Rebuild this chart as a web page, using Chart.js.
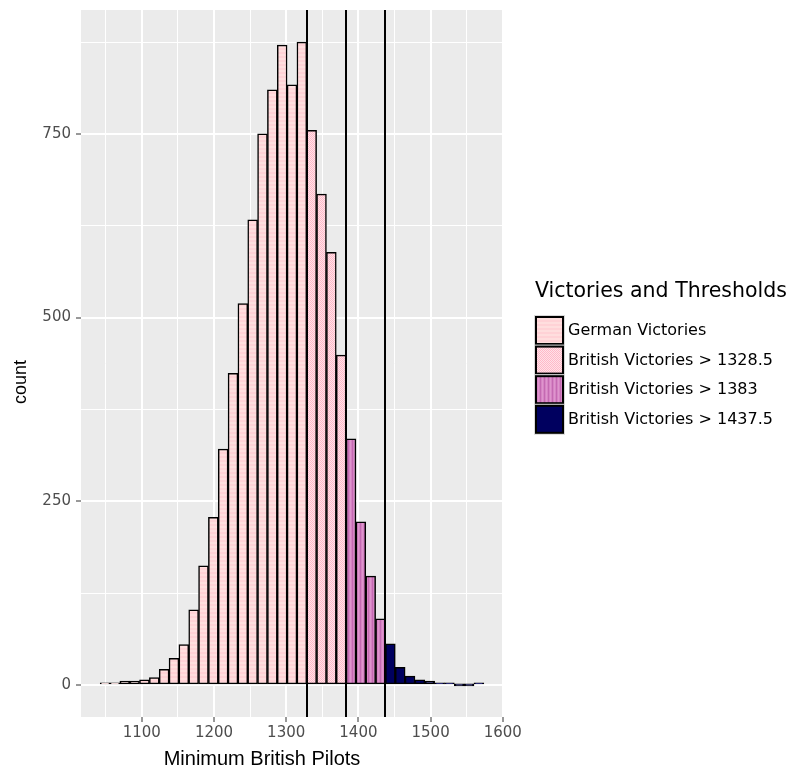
<!DOCTYPE html>
<html>
<head>
<meta charset="utf-8">
<script src="https://cdn.jsdelivr.net/npm/chart.js@4/dist/chart.umd.min.js"></script>
<style>
html,body{margin:0;padding:0;background:#fff;}
#wrap{width:791px;height:769px;position:relative;}
</style>
</head>
<body>
<div id="wrap"><canvas id="c" width="791" height="769"></canvas></div>
<script>
// ---- data ----
const binCenters = [1049.19,1062.81,1076.44,1090.06,1103.69,1117.31,1130.94,1144.56,1158.19,1171.81,
  1185.44,1199.06,1212.69,1226.31,1239.94,1253.56,1267.19,1280.81,1294.44,1308.06,
  1321.69,1335.31,1348.94,1362.56,1376.19,1389.81,1403.44,1417.06,1430.69,1444.31,
  1457.94,1471.56,1485.19,1498.81,1512.44,1526.06,1539.69,1553.31,1566.94];
const counts = [1,2,5,5,7,10,21,36,55,102,
  162,228,321,424,519,633,750,810,871,817,
  875,755,668,589,449,335,222,148,90,56,
  24,12,7,5,2,1,0,0,1];
const thresholds = [1328.5, 1383, 1437.5];
const groupLabels = ['German Victories','British Victories > 1328.5','British Victories > 1383','British Victories > 1437.5'];
const xTickValues = [1100,1200,1300,1400,1500,1600];
const yTickValues = [0,250,500,750];
const xLimits = [1015.8, 1600.3];
const yLimits = [-43.75, 918.75];

// ---- patterns ----
const canvas = document.getElementById('c');
const ctx = canvas.getContext('2d');
function makePattern(w, h, fn){
  const c = document.createElement('canvas'); c.width = w; c.height = h;
  const g = c.getContext('2d'); fn(g); return ctx.createPattern(c, 'repeat');
}
const patterns = [
  makePattern(4,4,g=>{ g.fillStyle='#FFDEDE'; g.fillRect(0,0,4,4); g.fillStyle='#FFD2D6'; g.fillRect(0,0,4,2); }),
  makePattern(4,4,g=>{ g.fillStyle='#FFE2E8'; g.fillRect(0,0,4,4); g.fillStyle='#FFB9C8';
    for(let i=0;i<4;i++){ g.fillRect(i,(i)%4,1,1); g.fillRect(i,(i+2)%4,1,1);} }),
  makePattern(4,4,g=>{ g.fillStyle='#D683C4'; g.fillRect(0,0,4,4); g.fillStyle='#C46AB2'; g.fillRect(0,0,1,4); g.fillStyle='#DE95CD'; g.fillRect(2,0,1,4); }),
  '#00005F'
];
function groupOf(x){
  let gi = 0;
  thresholds.forEach((t,i)=>{ if (x > t) gi = i+1; });
  return gi;
}

const xMinor = xTickValues.map(v=>v-50);
const yMinor = yTickValues.map(v=>v+125);
const xAll = [...xMinor, ...xTickValues].sort((a,b)=>a-b);
const yAll = [...yTickValues, ...yMinor].sort((a,b)=>a-b);

const bgPlugin = {
  id:'bg',
  beforeDraw(chart){
    const a = chart.chartArea, c = chart.ctx;
    c.save(); c.fillStyle = '#EBEBEB'; c.fillRect(a.left, a.top, a.right-a.left, a.bottom-a.top); c.restore();
  },
  afterDatasetsDraw(chart){
    const a = chart.chartArea, c = chart.ctx, xs = chart.scales.x;
    c.save(); c.strokeStyle = '#000'; c.lineWidth = 2;
    thresholds.forEach(t=>{
      const px = Math.round(xs.getPixelForValue(t));
      c.beginPath(); c.moveTo(px, a.top); c.lineTo(px, a.bottom); c.stroke();
    });
    c.restore();
  },
  afterDraw(chart){
    const c = chart.ctx;
    c.save();
    // axis titles
    c.fillStyle = '#000';
    c.font = '20px "Liberation Sans", Arial, sans-serif';
    c.textAlign = 'center'; c.textBaseline = 'middle';
    c.fillText('Minimum British Pilots', 262, 759);
    c.font = '18px "Liberation Sans", Arial, sans-serif';
    c.save(); c.translate(21, 382); c.rotate(-Math.PI/2); c.fillText('count', 0, 0); c.restore();
    // legend
    c.textAlign = 'left';
    c.font = '20.5px "DejaVu Sans", sans-serif';
    c.fillText('Victories and Thresholds', 535, 292);
    c.font = '16px "DejaVu Sans", sans-serif';
    groupLabels.forEach((lab,i)=>{
      const y = 316 + i*29.6;
      c.fillStyle = '#D9D9D9'; c.fillRect(534, y-1, 31, 31);
      c.fillStyle = patterns[i]; c.fillRect(536, y+1, 27, 27);
      c.strokeStyle = '#000'; c.lineWidth = 2; c.strokeRect(536, y+1, 27, 27);
      c.fillStyle = '#000'; c.fillText(lab, 568, y+15);
    });
    c.restore();
  }
};

new Chart(canvas, {
  type: 'bar',
  data: {
    datasets: [{
      data: binCenters.map((x,i)=>({x:x, y:counts[i]})),
      backgroundColor: (cx)=> patterns[groupOf(binCenters[cx.dataIndex])],
      borderColor: '#000',
      borderWidth: 1.5,
      borderSkipped: false,
      minBarLength: 2,
      barPercentage: 1,
      categoryPercentage: 1
    }]
  },
  plugins: [bgPlugin],
  options: {
    responsive: false,
    animation: false,
    layout: { padding: { top: 10, right: 288, left: 0, bottom: 0 } },
    plugins: { legend: { display: false }, tooltip: { enabled: false } },
    scales: {
      x: {
        type: 'linear', min: xLimits[0], max: xLimits[1],
        offset: false,
        afterBuildTicks: (s)=>{ s.ticks = xAll.map(v=>({value:v})); },
        afterFit: (s)=>{ s.height = 52; s.paddingLeft = 0; s.paddingRight = 0; },
        border: { display: false },
        grid: {
          offset: false,
          color: '#FFFFFF',
          lineWidth: (cx)=> (cx.tick && cx.tick.value % 100 === 0) ? 2 : 1,
          tickColor: (cx)=> (cx.tick && cx.tick.value % 100 === 0) ? '#333333' : 'rgba(0,0,0,0)',
          tickLength: 5, tickWidth: 1
        },
        ticks: {
          autoSkip: false, maxRotation: 0, padding: 2,
          color: '#4D4D4D', font: { family: '"DejaVu Sans", sans-serif', size: 15 },
          callback: (v)=> v % 100 === 0 ? String(v) : ''
        }
      },
      y: {
        type: 'linear', min: yLimits[0], max: yLimits[1],
        afterBuildTicks: (s)=>{ s.ticks = yAll.map(v=>({value:v})); },
        afterFit: (s)=>{ s.width = 81; s.paddingTop = 0; s.paddingBottom = 0; },
        border: { display: false },
        grid: {
          color: '#FFFFFF',
          lineWidth: (cx)=> (cx.tick && cx.tick.value % 250 === 0) ? 2 : 1,
          tickColor: (cx)=> (cx.tick && cx.tick.value % 250 === 0) ? '#333333' : 'rgba(0,0,0,0)',
          tickLength: 5, tickWidth: 1
        },
        ticks: {
          autoSkip: false, padding: 5,
          color: '#4D4D4D', font: { family: '"DejaVu Sans", sans-serif', size: 15 },
          callback: (v)=> v % 250 === 0 ? String(v) : ''
        }
      }
    }
  }
});
</script>
</body>
</html>
